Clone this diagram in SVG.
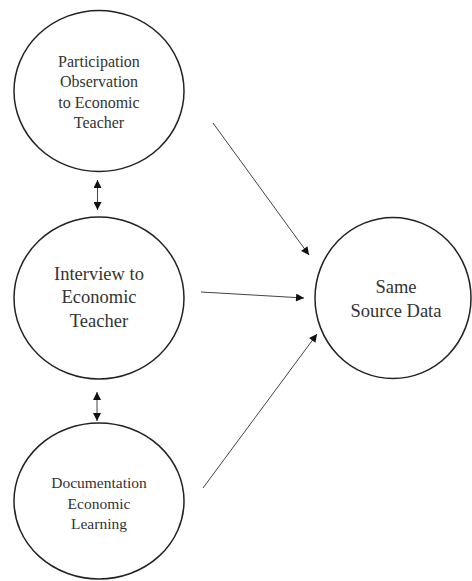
<svg xmlns="http://www.w3.org/2000/svg" width="472" height="581" viewBox="0 0 472 581">
<style>
.node ellipse{fill:#fff;stroke:#222;stroke-width:1.5}
.node text{font-family:"Liberation Serif","Times New Roman",serif;fill:#333;text-anchor:middle}
.conn line{stroke:#444;stroke-width:1}
</style>
<defs>
<marker id="ah" viewBox="0 0 10 10" refX="10" refY="5" markerWidth="9" markerHeight="8" markerUnits="userSpaceOnUse" orient="auto-start-reverse">
<path d="M0,0 L10,5 L0,10 Z" fill="#111"/>
</marker>
</defs>
<rect width="472" height="581" fill="#fff"/>
<g id="n1" class="node">
<ellipse cx="99" cy="91" rx="85" ry="80.5"/>
<text font-size="16"><tspan x="99" y="67">Participation</tspan><tspan x="99" y="87">Observation</tspan><tspan x="99" y="108">to Economic</tspan><tspan x="99" y="128">Teacher</tspan></text>
</g>
<g id="n2" class="node">
<ellipse cx="99" cy="298" rx="85" ry="81"/>
<text font-size="18.5"><tspan x="99" y="280">Interview to</tspan><tspan x="99" y="303">Economic</tspan><tspan x="99" y="327">Teacher</tspan></text>
</g>
<g id="n3" class="node">
<ellipse cx="99" cy="501" rx="85" ry="78"/>
<text font-size="15.5"><tspan x="99" y="488">Documentation</tspan><tspan x="99" y="509">Economic</tspan><tspan x="99" y="529">Learning</tspan></text>
</g>
<g id="n4" class="node">
<ellipse cx="393" cy="298" rx="78" ry="80.5"/>
<text font-size="18.5"><tspan x="396" y="293">Same</tspan><tspan x="396" y="317">Source Data</tspan></text>
</g>
<g id="connectors" class="conn">
<line x1="213" y1="123" x2="309" y2="255" marker-end="url(#ah)"/>
<line x1="201" y1="292" x2="304" y2="298" marker-end="url(#ah)"/>
<line x1="203" y1="488" x2="317" y2="334" marker-end="url(#ah)"/>
<line x1="97.5" y1="180" x2="97.5" y2="210" marker-start="url(#ah)" marker-end="url(#ah)"/>
<line x1="97" y1="392" x2="97" y2="421" marker-start="url(#ah)" marker-end="url(#ah)"/>
</g>
</svg>
